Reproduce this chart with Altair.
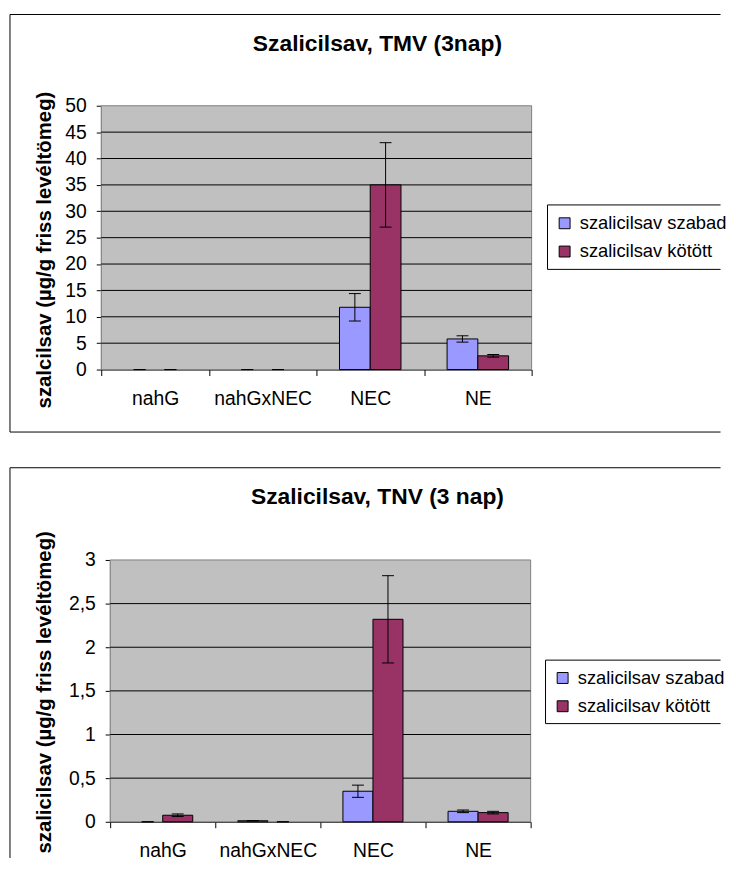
import altair as alt
import pandas as pd

# ---------------- data ----------------
categories = ["nahG", "nahGxNEC", "NEC", "NE"]
series = ["szalicilsav szabad", "szalicilsav kötött"]
colors = ["#9999FF", "#993366"]

# TMV (3nap)
tmv_szabad = [0.0, 0.0, 11.8, 5.8]
tmv_szabad_err = [0.0, 0.0, 2.6, 0.6]
tmv_kotott = [0.0, 0.0, 35.0, 2.6]
tmv_kotott_err = [0.0, 0.0, 8.0, 0.25]
tmv_ticks = [0, 5, 10, 15, 20, 25, 30, 35, 40, 45, 50]

# TNV (3 nap)
tnv_szabad = [0.0, 0.012, 0.35, 0.12]
tnv_szabad_err = [0.0, 0.003, 0.07, 0.015]
tnv_kotott = [0.075, 0.0, 2.32, 0.105]
tnv_kotott_err = [0.015, 0.0, 0.5, 0.015]
tnv_ticks = [0, 0.5, 1, 1.5, 2, 2.5, 3]

FONT = "Liberation Sans"
RIGHT_EDGE = 726
PLOT_LEFT = 101.5


def make_frame(szabad, szabad_err, kotott, kotott_err):
    rows = []
    for i, c in enumerate(categories):
        for s, vals, errs in ((series[0], szabad, szabad_err), (series[1], kotott, kotott_err)):
            v, e = vals[i], errs[i]
            rows.append({"cat": c, "series": s, "value": v, "lo": v - e, "hi": v + e})
    return pd.DataFrame(rows)


def hrule(dummy, x1, x2, y):
    return dummy.mark_rule(color="black", strokeWidth=1).encode(
        x=alt.value(x1), x2=alt.value(x2), y=alt.value(y))


def vrule(dummy, x, y1, y2):
    return dummy.mark_rule(color="black", strokeWidth=1).encode(
        x=alt.value(x), y=alt.value(y1), y2=alt.value(y2))


def panel(title, ytitle, szabad, szabad_err, kotott, kotott_err, ymax, yticks,
          label_expr, ix, w, h, py, title_y, ytitle_x, ytitle_y,
          legend_x, legend_top, legend_bottom, box_top, box_bottom, draw_bottom):
    px = PLOT_LEFT
    df = make_frame(szabad, szabad_err, kotott, kotott_err)
    base = alt.Chart(df)
    dummy = alt.Chart(pd.DataFrame({"d": [0]}))

    xs = alt.Scale(domain=categories, paddingInner=0, paddingOuter=0, range=[ix, w])
    xaxis = alt.Axis(title=None, labelAngle=0, tickBand="extent", ticks=True, tickSize=6,
                     labelPadding=29, labelBaseline="alphabetic", labelFontSize=19.5,
                     grid=False, domainColor="black", tickColor="black")
    X = alt.X("cat:N", scale=xs, axis=xaxis, sort=categories)
    XO = alt.XOffset("series:N", sort=series,
                     scale=alt.Scale(domain=series, paddingInner=0, paddingOuter=0.75))
    ys = alt.Scale(domain=[0, ymax], nice=False, zero=True)
    yaxis_kw = dict(title=ytitle, values=yticks, tickSize=5, labelPadding=10,
                    labelFontSize=19.5, grid=False, offset=-ix,
                    domainColor="black", tickColor="black",
                    titleFontSize=20.5, titleFontWeight="bold", titleAngle=-90,
                    titleAlign="center", titleBaseline="alphabetic",
                    titleX=ytitle_x, titleY=ytitle_y)
    if label_expr:
        yaxis_kw["labelExpr"] = label_expr
    yaxis = alt.Axis(**yaxis_kw)

    left = 9.5 - px
    right = RIGHT_EDGE - px
    top = box_top - py
    bottom = box_bottom - py

    # plot area background and horizontal grid lines
    bg = dummy.mark_rect(fill="#C0C0C0", stroke="#808080", strokeWidth=1).encode(
        x=alt.value(ix), x2=alt.value(w), y=alt.value(0), y2=alt.value(h))
    grid_vals = [t for t in yticks if 0 < t < ymax]
    grid = alt.Chart(pd.DataFrame({"value": grid_vals})).mark_rule(
        color="black", strokeWidth=1).encode(
        y=alt.Y("value:Q", scale=ys, axis=yaxis), x=alt.value(ix), x2=alt.value(w))
    layers = [bg, grid]

    # outer chart frame (right side runs off the page, as in the original)
    layers += [hrule(dummy, left, right, top), vrule(dummy, left, top, bottom)]
    if draw_bottom:
        layers.append(hrule(dummy, left, right, bottom))

    # legend frame
    lx = legend_x - px
    lt = legend_top - py
    lb = legend_bottom - py
    layers += [hrule(dummy, lx, right, lt), hrule(dummy, lx, right, lb), vrule(dummy, lx, lt, lb)]

    ttl = dummy.mark_text(text=title, font=FONT, fontSize=23, fontWeight="bold",
                          align="center", baseline="middle", color="black").encode(
        x=alt.value(380 - px), y=alt.value(title_y - py))
    layers.append(ttl)

    legend_center = (legend_top + legend_bottom) / 2.0
    bars = base.transform_filter("datum.value > 0").mark_bar(
        stroke="black", strokeWidth=1, opacity=1).encode(
        x=X, xOffset=XO,
        y=alt.Y("value:Q", scale=ys, axis=yaxis),
        color=alt.Color("series:N", sort=series,
                        scale=alt.Scale(domain=series, range=colors),
                        legend=alt.Legend(title=None, orient="none",
                                          legendX=legend_x + 8 - px,
                                          legendY=legend_center - 23.25 - py)),
    )
    err = base.mark_rule(color="black", strokeWidth=1).encode(
        x=X, xOffset=XO, y=alt.Y("lo:Q", scale=ys, axis=yaxis), y2="hi:Q")
    cap_hi = base.mark_tick(color="black", size=12, thickness=1, opacity=1).encode(
        x=X, xOffset=XO, y=alt.Y("hi:Q", scale=ys, axis=yaxis))
    cap_lo = base.mark_tick(color="black", size=12, thickness=1, opacity=1).encode(
        x=X, xOffset=XO, y=alt.Y("lo:Q", scale=ys, axis=yaxis))
    layers += [bars, err, cap_hi, cap_lo]
    return alt.layer(*layers).properties(width=w, height=h)


c1 = panel("Szalicilsav, TMV (3nap)", "szalcilsav (µg/g friss levéltömeg)",
           tmv_szabad, tmv_szabad_err, tmv_kotott, tmv_kotott_err, 50, tmv_ticks, None,
           ix=0, w=434, h=266, py=102.5, title_y=40,
           ytitle_x=-51.5, ytitle_y=145, legend_x=551.5, legend_top=202.5,
           legend_bottom=267.5, box_top=10.5, box_bottom=431.5, draw_bottom=True)

c2 = panel("Szalicilsav, TNV (3 nap)", "szalicilsav (µg/g friss levéltömeg)",
           tnv_szabad, tnv_szabad_err, tnv_kotott, tnv_kotott_err, 3, tnv_ticks,
           "replace(toString(datum.value), '.', ',')",
           ix=9, w=433, h=264, py=559.5, title_y=496,
           ytitle_x=-60.5, ytitle_y=133, legend_x=549.5, legend_top=660.5,
           legend_bottom=724.5, box_top=466.5, box_bottom=860, draw_bottom=False)

chart = alt.vconcat(c1, c2, spacing=34).resolve_scale(
    x="independent", y="independent", xOffset="independent", color="independent"
).properties(
    padding={"left": 1, "top": 2, "right": 0, "bottom": 0}
).configure(
    font=FONT
).configure_view(
    fill="transparent", stroke="transparent", strokeWidth=0
).configure_axis(
    labelFont=FONT, titleFont=FONT, labelColor="black", titleColor="black",
    domainWidth=1, tickWidth=1
).configure_legend(
    labelFont=FONT, labelFontSize=18.5, labelColor="black", labelOffset=6,
    labelLimit=0, symbolType="square", symbolSize=121, symbolStrokeColor="black",
    symbolStrokeWidth=1, symbolOpacity=1, padding=0, rowPadding=9.5,
    strokeColor="transparent", fillColor="transparent"
)

chart.save("out.html", embed_options={"renderer": "svg", "actions": False})
